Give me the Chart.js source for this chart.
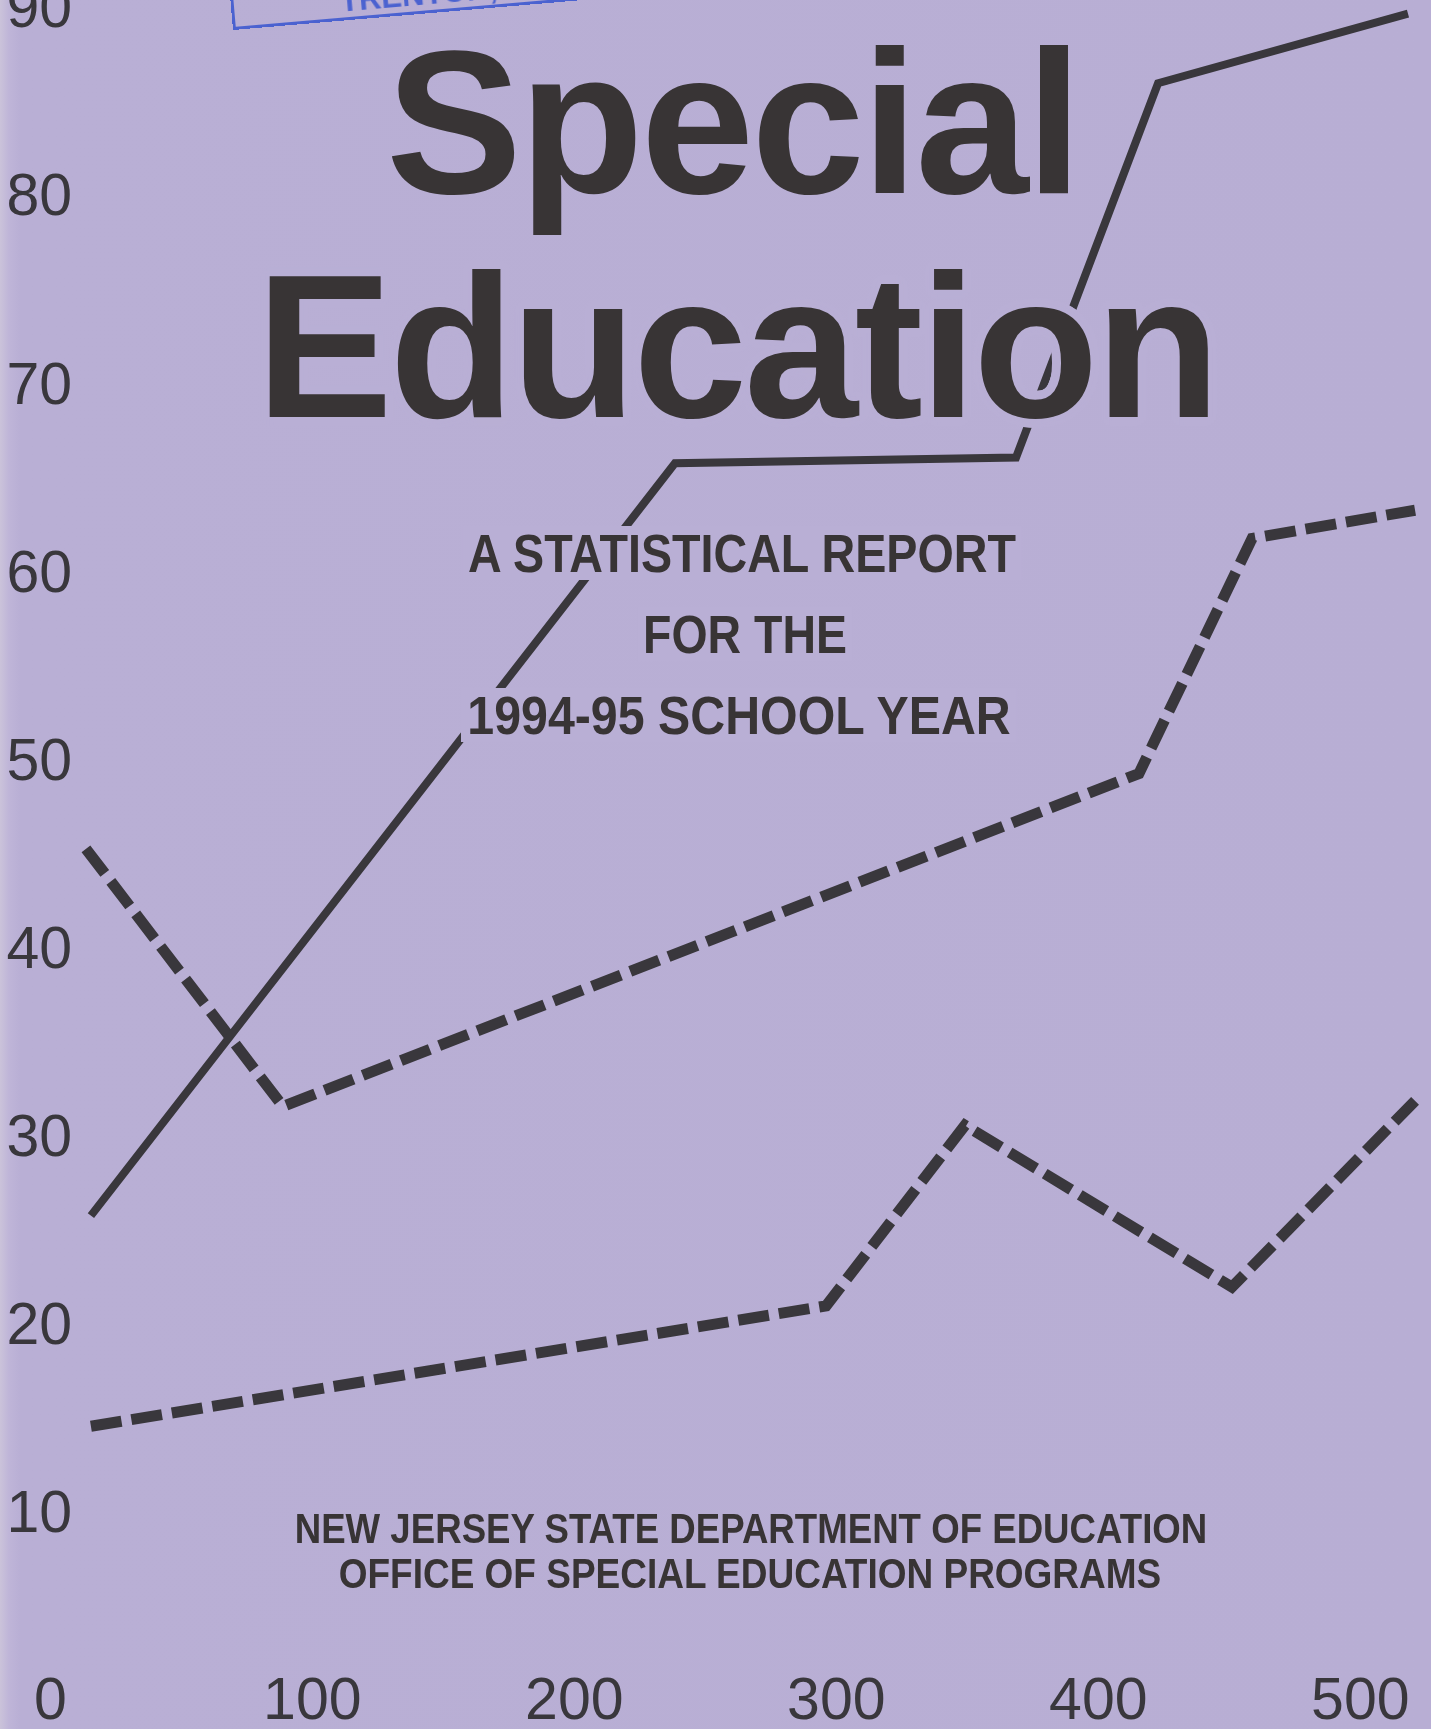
<!DOCTYPE html>
<html>
<head>
<meta charset="utf-8">
<script src="https://cdn.jsdelivr.net/npm/chart.js@4.4.1/dist/chart.umd.min.js"></script>
<style>
html,body{margin:0;padding:0;width:1431px;height:1729px;overflow:hidden;background:#b9afd5;}
#wrap{position:relative;width:1431px;height:1729px;overflow:hidden;
  background:linear-gradient(to right,#cbc3da 0px,#bfb5d8 9px,#b9afd5 20px,#b8aed4 100%);}
#c{position:absolute;left:0;top:-40px;z-index:1;}
.t{position:absolute;white-space:nowrap;font-family:'Liberation Sans',Arial,Helvetica,sans-serif;
  font-weight:bold;color:#383435;line-height:1;z-index:2;}
.big{font-size:205px;}
.sub{font-size:54px;background:#b9afd5;padding:0 7px;}
.foot{font-size:43px;}
#stamp{position:absolute;left:233px;top:-200px;width:720px;height:227px;border:3px solid #4b62d0;border-top:none;
  transform-origin:0 100%;transform:rotate(-4.9deg);z-index:3;}
#stamp span{position:absolute;left:106px;bottom:1px;font-family:'Liberation Sans Narrow','Liberation Sans',Arial,sans-serif;
  font-weight:bold;font-size:31px;line-height:1;color:#4b62d0;white-space:nowrap;}
</style>
</head>
<body>
<div id="wrap">
  <canvas id="c" width="1431" height="1785" style="width:1431px;height:1785px"></canvas>
  <div id="stamp"><span>NEW JERSEY STATE LIBRARY<br>TRENTON, N.J.</span></div>
  <div class="t big" id="t1" style="left:386px;top:20px;font-size:204px;letter-spacing:-3px;">Special</div>
  <div class="t big" id="t2" style="left:256px;top:243px;letter-spacing:-3.3px;">Education</div>
  <div class="t sub" style="left:742px;top:526px;transform:translateX(-50%) scaleX(0.864);">A STATISTICAL REPORT</div>
  <div class="t sub" style="left:745px;top:607px;transform:translateX(-50%) scaleX(0.86);">FOR THE</div>
  <div class="t sub" style="left:739px;top:688px;transform:translateX(-50%) scaleX(0.895);">1994-95 SCHOOL YEAR</div>
  <div class="t foot" style="left:751px;top:1507px;transform:translateX(-50%) scaleX(0.852);">NEW JERSEY STATE DEPARTMENT OF EDUCATION</div>
  <div class="t foot" style="left:750px;top:1552px;transform:translateX(-50%) scaleX(0.86);">OFFICE OF SPECIAL EDUCATION PROGRAMS</div>
</div>
<script>
// ---- data ----
const xTickValues = [0, 100, 200, 300, 400, 500];
const yTickValues = [10, 20, 30, 40, 50, 60, 70, 80, 90];

const solidX = [15.5, 238.4, 368.6, 422.8, 518.2];
const solidY = [25.7, 65.7, 66.0, 85.9, 89.6];

const upperDashX = [13.6, 88.8, 415.5, 458.7, 520.9];
const upperDashY = [45.2, 31.5, 49.2, 61.7, 63.2];

const lowerDashX = [15.5, 296.1, 349.1, 451.0, 520.9];
const lowerDashY = [14.5, 20.9, 30.5, 21.9, 31.8];

// ---- axis calibration (page pixel position of value 0 and pixels per unit) ----
const X0_PX = 50.3, PX_PER_X = 2.62;
const Y0_PX = 1699, PX_PER_Y = 18.81;
const CANVAS_TOP = -40;

// halo for "Education" so the line is knocked out around glyphs
(function(){
  const bg = '#b9afd5';
  const s = [];
  [4.5, 9].forEach(r => {
    for (let i = 0; i < 16; i++) {
      const a = i * Math.PI / 8;
      s.push((r*Math.cos(a)).toFixed(2)+'px '+(r*Math.sin(a)).toFixed(2)+'px 0 '+bg);
    }
  });
  document.getElementById('t2').style.textShadow = s.join(',');
})();

const pts = (xs, ys) => xs.map((x, i) => ({x: x, y: ys[i]}));
const INK = '#39373c';

const chart = new Chart(document.getElementById('c'), {
  type: 'line',
  data: {
    datasets: [
      {data: pts(solidX, solidY), borderColor: INK, borderWidth: 8, borderJoinStyle: 'miter',
       borderCapStyle: 'butt', pointRadius: 0, tension: 0, fill: false, clip: false},
      {data: pts(upperDashX, upperDashY), borderColor: INK, borderWidth: 11, borderDash: [31, 10],
       borderJoinStyle: 'miter', borderCapStyle: 'butt', pointRadius: 0, tension: 0, fill: false, clip: false},
      {data: pts(lowerDashX, lowerDashY), borderColor: INK, borderWidth: 11, borderDash: [31, 10],
       borderJoinStyle: 'miter', borderCapStyle: 'butt', pointRadius: 0, tension: 0, fill: false, clip: false}
    ]
  },
  options: {
    responsive: false,
    devicePixelRatio: 1,
    animation: false,
    events: [],
    layout: {padding: 0},
    plugins: {legend: {display: false}, tooltip: {enabled: false}, title: {display: false}},
    scales: {
      x: {
        type: 'linear', position: 'bottom', min: -18.4, max: 527,
        grid: {display: false, drawTicks: false}, border: {display: false},
        afterBuildTicks: s => { s.ticks = xTickValues.map(v => ({value: v})); },
        ticks: {autoSkip: false, maxRotation: 0, padding: 7, color: INK,
                font: {family: "'Liberation Sans', Arial, sans-serif", size: 59}}
      },
      y: {
        type: 'linear', position: 'left', min: 2.3, max: 92.5,
        grid: {display: false, drawTicks: false}, border: {display: false},
        afterBuildTicks: s => { s.ticks = yTickValues.map(v => ({value: v})); },
        ticks: {mirror: true, padding: 1, labelOffset: 5, autoSkip: false, color: INK,
                font: {family: "'Liberation Sans', Arial, sans-serif", size: 59}}
      }
    }
  }
});

function calibrate() {
  const ca = chart.chartArea;
  chart.options.scales.x.min = (ca.left - X0_PX) / PX_PER_X;
  chart.options.scales.x.max = (ca.right - X0_PX) / PX_PER_X;
  chart.options.scales.y.min = (Y0_PX - (ca.bottom + CANVAS_TOP)) / PX_PER_Y;
  chart.options.scales.y.max = (Y0_PX - (ca.top + CANVAS_TOP)) / PX_PER_Y;
  chart.update('none');
}
calibrate();
calibrate();
</script>
</body>
</html>
